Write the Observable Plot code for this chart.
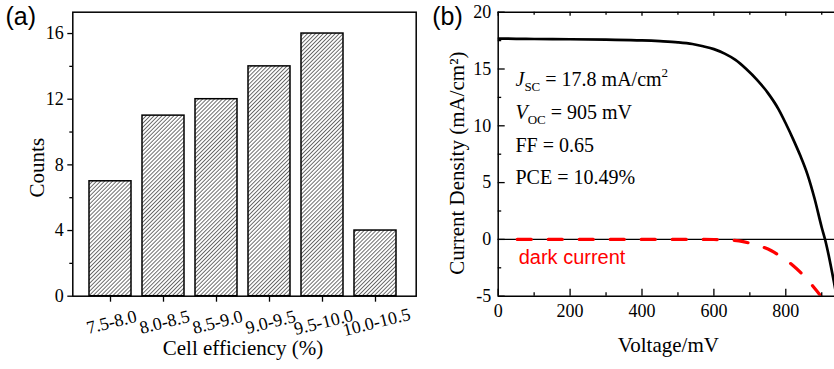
<!DOCTYPE html>
<html><head><meta charset="utf-8">
<script src="https://cdn.jsdelivr.net/npm/d3@7"></script>
<script src="https://cdn.jsdelivr.net/npm/@observablehq/plot@0.6"></script>
<style>
html,body{margin:0;padding:0;background:#fff;overflow:hidden;}
#wrap{position:relative;width:834px;height:369px;background:#fff;}
#pa{position:absolute;left:0;top:0;}
#pb{position:absolute;left:420px;top:0;}
</style></head><body>
<svg width="0" height="0" style="position:absolute">
<defs><pattern id="hatch" patternUnits="userSpaceOnUse" width="2.8" height="2.8" patternTransform="rotate(45)">
<rect width="2.8" height="2.8" fill="#fff"/><line x1="0" y1="0" x2="0" y2="2.8" stroke="#111" stroke-width="1.2"/></pattern></defs></svg>
<div id="wrap"><div id="pa"></div><div id="pb"></div></div>
<script>
// ---- Panel (a) data ----
const categories = ["7.5-8.0", "8.0-8.5", "8.5-9.0", "9.0-9.5", "9.5-10.0", "10.0-10.5"];
const counts = [7, 11, 12, 14, 16, 4];
const countTicks = [0, 4, 8, 12, 16];
const countMinorTicks = [2, 6, 10, 14];

// ---- Panel (b) data ----
const voltage = [0, 50, 100, 200, 300, 400, 450, 500, 540, 570, 600, 630, 660, 690, 720, 750, 780, 800, 820, 840, 860, 880, 900, 910, 920, 936, 950];
const lightCurrent = [17.68, 17.66, 17.64, 17.62, 17.58, 17.52, 17.45, 17.35, 17.2, 17.0, 16.75, 16.35, 15.8, 15.0, 14.05, 12.9, 11.45, 10.2, 8.85, 7.4, 5.75, 3.6, 1.05, -0.1, -1.5, -4.1, -6.5];
const darkVoltage = [53, 100, 200, 300, 400, 500, 600, 640, 670, 700, 730, 760, 790, 820, 850, 875, 900, 915];
const darkCurrent = [0, 0, 0, 0, 0, 0, -0.01, -0.05, -0.13, -0.33, -0.6, -1.0, -1.6, -2.3, -3.2, -4.1, -5.1, -5.8];
const voltageTicks = [0, 200, 400, 600, 800];
const voltageMinorTicks = [100, 300, 500, 700, 900];
const currentTicks = [-5, 0, 5, 10, 15, 20];
const currentMinorTicks = [-2.5, 2.5, 7.5, 12.5, 17.5];
const annoLead = ["J", "V", "", ""];
const annoSub = ["SC", "OC", "", ""];
const annoRest = [" = 17.8 mA/cm", " = 905 mV", "FF = 0.65", "PCE = 10.49%"];
const annoSup = ["2", "", "", ""];

const serif = "'Liberation Serif','Times New Roman',serif";
const sans = "'Liberation Sans',Arial,sans-serif";

// ---------- Panel (a) ----------
const A = {w: 420, h: 369, ml: 72.3, mr: 4.3, mt: 11.7, mb: 73.3};
const aW = A.w - A.ml - A.mr, aH = A.h - A.mt - A.mb;
const barData = categories.map((c, i) => ({category: c, count: counts[i]}));

const plotA = Plot.plot({
  width: A.w, height: A.h,
  marginLeft: A.ml, marginRight: A.mr, marginTop: A.mt, marginBottom: A.mb,
  style: {fontFamily: serif, fontSize: "18px", background: "transparent", overflow: "visible", color: "black"},
  x: {type: "band", domain: categories, paddingInner: 0.2, paddingOuter: 0.318, align: 0.457, axis: null},
  y: {domain: [0, 17.3], axis: null},
  marks: [
    Plot.barY(barData, {x: "category", y: "count", fill: "url(#hatch)", stroke: "black", strokeWidth: 1.5}),
    Plot.frame({stroke: "black", strokeWidth: 1.5}),
    Plot.tickY(countTicks, {y: d => d, insetLeft: -5, insetRight: aW, stroke: "black", strokeWidth: 1.3}),
    Plot.tickY(countMinorTicks, {y: d => d, insetLeft: -3, insetRight: aW, stroke: "black", strokeWidth: 1.3}),
    Plot.tickX(categories, {x: d => d, insetTop: aH, insetBottom: -6, stroke: "black", strokeWidth: 1.3}),
    Plot.text(countTicks, {y: d => d, text: d => String(d), frameAnchor: "left", dx: -9, textAnchor: "end", lineAnchor: "middle", fill: "black"}),
    Plot.text(categories, {x: d => d, text: d => d, frameAnchor: "bottom", dx: 1, dy: 26, rotate: -14, textAnchor: "middle", lineAnchor: "middle", fill: "black"}),
    Plot.text(["Counts"], {text: d => d, frameAnchor: "left", dx: -35.3, dy: 13.5, rotate: -90, textAnchor: "middle", lineAnchor: "middle", fontSize: 21, fill: "black"}),
    Plot.text(["Cell efficiency (%)"], {text: d => d, frameAnchor: "bottom", dx: -1.5, dy: 59, textAnchor: "middle", lineAnchor: "bottom", fontSize: 21, fill: "black"}),
    Plot.text(["(a)"], {text: d => d, frameAnchor: "top-left", dx: -67.3, dy: 12.8, textAnchor: "start", lineAnchor: "bottom", fontFamily: sans, fontSize: 25, fill: "black"})
  ]
});
document.getElementById("pa").appendChild(plotA);

// ---------- Panel (b) ----------
const B = {w: 414, h: 369, ml: 77.7, mr: 0, mt: 11.7, mb: 73.3};
const bW = B.w - B.ml - B.mr, bH = B.h - B.mt - B.mb;
const light = voltage.map((v, i) => ({v, j: lightCurrent[i]}));
const dark = darkVoltage.map((v, i) => ({v, j: darkCurrent[i]}));
const annoText = annoRest.map((r, i) => annoLead[i] + annoSub[i] + r + annoSup[i]);

const plotB = Plot.plot({
  width: B.w, height: B.h,
  marginLeft: B.ml, marginRight: B.mr, marginTop: B.mt, marginBottom: B.mb,
  style: {fontFamily: serif, fontSize: "18px", background: "transparent", overflow: "visible", color: "black"},
  x: {domain: [0, 935.5], axis: null},
  y: {domain: [-5, 20], axis: null},
  marks: [
    Plot.ruleY([0], {y: d => d, stroke: "black", strokeWidth: 1.3}),
    Plot.line(dark, {x: "v", y: "j", stroke: "#ff0000", strokeWidth: 3.2, strokeDasharray: "14,17", curve: "monotone-x", clip: true}),
    Plot.line(light, {x: "v", y: "j", stroke: "black", strokeWidth: 2.7, curve: "monotone-x", clip: true}),
    Plot.ruleX([0], {x: d => d, stroke: "black", strokeWidth: 1.5}),
    Plot.ruleY([20, -5], {y: d => d, stroke: "black", strokeWidth: 1.5}),
    Plot.tickX(voltageTicks, {x: d => d, insetTop: bH - 7, stroke: "black", strokeWidth: 1.3}),
    Plot.tickX(voltageMinorTicks, {x: d => d, insetTop: bH - 3.5, stroke: "black", strokeWidth: 1.3}),
    Plot.tickX(voltageTicks, {x: d => d, insetBottom: bH - 4, stroke: "black", strokeWidth: 1.3}),
    Plot.tickX(voltageMinorTicks, {x: d => d, insetBottom: bH - 3, stroke: "black", strokeWidth: 1.3}),
    Plot.tickY(currentTicks, {y: d => d, insetRight: bW - 7, stroke: "black", strokeWidth: 1.3}),
    Plot.tickY(currentMinorTicks, {y: d => d, insetRight: bW - 3.5, stroke: "black", strokeWidth: 1.3}),
    Plot.text(currentTicks, {y: d => d, text: d => String(d), frameAnchor: "left", dx: -7, textAnchor: "end", lineAnchor: "middle", fill: "black"}),
    Plot.text(voltageTicks, {x: d => d, text: d => String(d), frameAnchor: "bottom", dy: 21, textAnchor: "middle", lineAnchor: "bottom", fill: "black"}),
    Plot.text(["Current Density (mA/cm\u00b2)"], {text: d => d, frameAnchor: "left", dx: -41, dy: 9, rotate: -90, textAnchor: "middle", lineAnchor: "middle", fontSize: 21, fill: "black"}),
    Plot.text(["Voltage/mV"], {text: d => d, frameAnchor: "bottom", dx: 2, dy: 56, textAnchor: "middle", lineAnchor: "bottom", fontSize: 21, fill: "black"}),
    Plot.text(["(b)"], {text: d => d, frameAnchor: "top-left", dx: -66, dy: 12.8, textAnchor: "start", lineAnchor: "bottom", fontFamily: sans, fontSize: 25, fill: "black"}),
    Plot.text(["dark current"], {text: d => d, x: () => 57, y: () => -2.15, textAnchor: "start", lineAnchor: "bottom", fontFamily: sans, fontSize: 20, fill: "#ff0000"}),
    Plot.text(annoText, {text: d => d, frameAnchor: "top-left", dx: 17.3, dy: 74, textAnchor: "start", lineAnchor: "bottom", fontSize: 20, fill: "black"})
  ]
});
document.getElementById("pb").appendChild(plotB);

// Rich text (italic, subscripts, superscript) for annotations, with line spacing
const annoBaselines = [0, 33, 66, 98];
d3.select(plotB).selectAll("text").each(function () {
  const i = annoText.indexOf(this.textContent);
  if (i < 0) return;
  const t = d3.select(this);
  t.text(null).attr("y", annoBaselines[i]);
  if (annoLead[i]) t.append("tspan").attr("font-style", "italic").text(annoLead[i]);
  if (annoSub[i]) t.append("tspan").attr("font-size", 13).attr("dy", 5).text(annoSub[i]);
  const r = t.append("tspan").text(annoRest[i]);
  if (annoSub[i]) r.attr("dy", -5);
  if (annoSup[i]) t.append("tspan").attr("font-size", 13).attr("dy", -9).text(annoSup[i]);
});
</script>
</body></html>
